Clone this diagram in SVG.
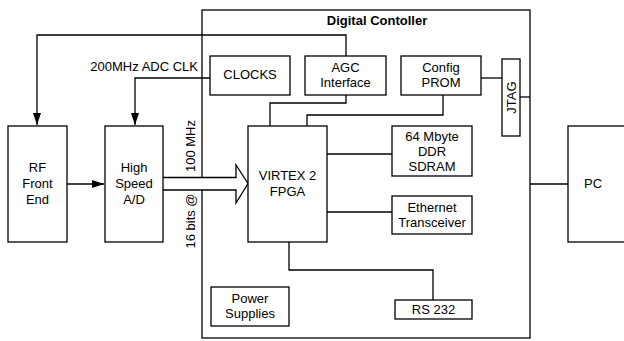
<svg xmlns="http://www.w3.org/2000/svg" width="624" height="341" viewBox="0 0 624 341">
<style>
.box{fill:#fff;stroke:#000;stroke-width:1.3}
.ln{fill:none;stroke:#000;stroke-width:1.3}
text{font-family:"Liberation Sans",Arial,sans-serif;font-size:13px;fill:#000;text-anchor:middle}
.b{font-weight:bold}
</style>
<defs>
<marker id="ah" viewBox="0 0 12 8" refX="12" refY="4" markerWidth="12" markerHeight="8" markerUnits="userSpaceOnUse" orient="auto">
<path d="M0,0 L12,4 L0,8 Z" fill="#000"/>
</marker>
</defs>
<g id="controller">
<rect class="box" x="202" y="10" width="328" height="328"/>
<text class="b" x="377" y="25">Digital Contoller</text>
</g>
<g id="connectors">
<polyline class="ln" points="346,56 346,35 37,35 37,125" marker-end="url(#ah)"/>
<polyline class="ln" points="210,78 135,78 135,125" marker-end="url(#ah)"/>
<polyline class="ln" points="346,95 346,103 270,103 270,126"/>
<polyline class="ln" points="443,95 443,115 307,115 307,126"/>
<line class="ln" x1="481" y1="78" x2="502" y2="78"/>
<line class="ln" x1="520" y1="97" x2="530" y2="97"/>
<line class="ln" x1="327" y1="154" x2="392" y2="154"/>
<line class="ln" x1="327" y1="212" x2="392" y2="212"/>
<polyline class="ln" points="289,242 289,270 433,270 433,300"/>
<line class="ln" x1="530" y1="184" x2="568" y2="184"/>
<line class="ln" x1="67" y1="184" x2="104" y2="184" marker-end="url(#ah)"/>
<path class="box" d="M163,177.5 L236,177.5 L236,165 L248,183.5 L236,203 L236,190 L163,190"/>
<text transform="translate(195,146) rotate(-90)">100 MHz</text>
<text transform="translate(195,221) rotate(-90)">16 bits @</text>
<text x="198" y="71" style="text-anchor:end">200MHz ADC CLK</text>
</g>
<g id="rf">
<rect class="box" x="8" y="126" width="59" height="116"/>
<text x="37.5" y="172">RF</text>
<text x="37.5" y="188">Front</text>
<text x="37.5" y="204">End</text>
</g>
<g id="adc">
<rect class="box" x="105" y="126" width="58" height="116"/>
<text x="134" y="172">High</text>
<text x="134" y="188">Speed</text>
<text x="134" y="204">A/D</text>
</g>
<g id="clocks">
<rect class="box" x="210" y="56" width="80" height="39"/>
<text x="250" y="79">CLOCKS</text>
</g>
<g id="agc">
<rect class="box" x="305" y="56" width="81" height="39"/>
<text x="345.5" y="72">AGC</text>
<text x="345.5" y="87">Interface</text>
</g>
<g id="prom">
<rect class="box" x="401" y="56" width="80" height="39"/>
<text x="441" y="72">Config</text>
<text x="441" y="87">PROM</text>
</g>
<g id="jtag">
<rect class="box" x="502" y="59" width="18" height="77"/>
<text transform="translate(516,97.5) rotate(-90)">JTAG</text>
</g>
<g id="fpga">
<rect class="box" x="248" y="126" width="79" height="116"/>
<text x="287.5" y="180">VIRTEX 2</text>
<text x="287.5" y="196">FPGA</text>
</g>
<g id="sdram">
<rect class="box" x="392" y="126" width="80" height="50"/>
<text x="432" y="141">64 Mbyte</text>
<text x="432" y="156">DDR</text>
<text x="432" y="171">SDRAM</text>
</g>
<g id="ethernet">
<rect class="box" x="392" y="196" width="80" height="38"/>
<text x="432" y="212">Ethernet</text>
<text x="432" y="227">Transceiver</text>
</g>
<g id="rs232">
<rect class="box" x="395" y="300" width="77" height="19"/>
<text x="433.5" y="314">RS 232</text>
</g>
<g id="power">
<rect class="box" x="211" y="287" width="78" height="39"/>
<text x="250" y="303">Power</text>
<text x="250" y="318">Supplies</text>
</g>
<g id="pc">
<rect class="box" x="568" y="126" width="70" height="116"/>
<text x="593" y="188">PC</text>
</g>
</svg>
